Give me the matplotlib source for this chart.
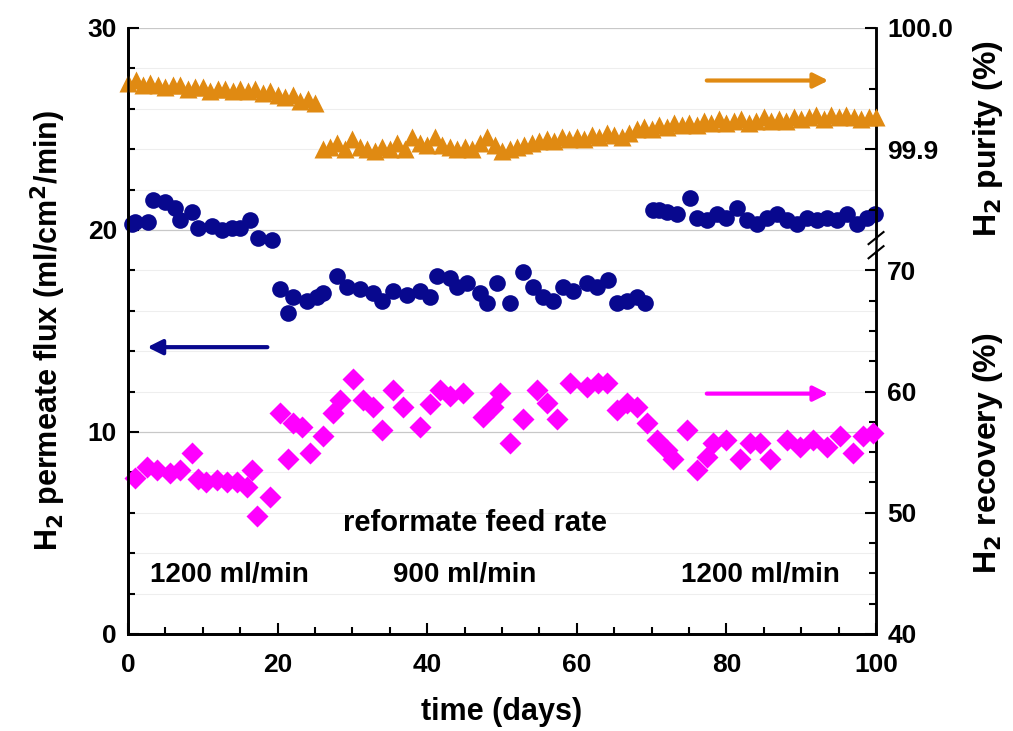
import numpy as np
import matplotlib.pyplot as plt
from matplotlib.ticker import MultipleLocator, FixedLocator
import matplotlib.transforms as mtransforms

plt.rcParams['font.family'] = ['Liberation Sans', 'DejaVu Sans']
plt.rcParams['font.weight'] = 'bold'

# H2 purity (%), orange triangles
pur_day1 = np.arange(0, 26, 1.0)
pur_val1 = [99.9550, 99.9567, 99.9533, 99.9550, 99.9533, 99.9517, 99.9533, 99.9533,
            99.9500, 99.9517, 99.9517, 99.9483, 99.9500, 99.9500, 99.9483, 99.9500,
            99.9483, 99.9500, 99.9467, 99.9483, 99.9450, 99.9433, 99.9450, 99.9400,
            99.9417, 99.9383]
pur_day2 = np.arange(26, 101, 1.0)
pur_val2 = [99.9000, 99.9017, 99.9050, 99.9000, 99.9083, 99.9017, 99.9000, 99.8983,
            99.9017, 99.9000, 99.9050, 99.9000, 99.9100, 99.9050, 99.9033, 99.9100,
            99.9033, 99.9017, 99.9000, 99.9017, 99.9000, 99.9050, 99.9100, 99.9033,
            99.8983, 99.9000, 99.9017, 99.9033, 99.9050, 99.9067, 99.9083, 99.9067,
            99.9100, 99.9083, 99.9100, 99.9083, 99.9117, 99.9100, 99.9133, 99.9117,
            99.9100, 99.9133, 99.9167, 99.9183, 99.9167, 99.9200, 99.9183, 99.9217,
            99.9200, 99.9217, 99.9200, 99.9233, 99.9217, 99.9250, 99.9217, 99.9233,
            99.9250, 99.9217, 99.9233, 99.9267, 99.9233, 99.9250, 99.9233, 99.9267,
            99.9250, 99.9267, 99.9283, 99.9250, 99.9283, 99.9267, 99.9283, 99.9267,
            99.9250, 99.9267, 99.9267]

# H2 permeate flux (ml/cm2/min), blue circles
flux_day = [0.5, 0.9, 2.7, 3.3, 4.9, 6.3, 7.0, 8.6, 9.4, 11.2, 12.6, 13.9, 15.0, 16.3, 17.4, 19.3,
            20.3, 21.4, 22.0, 23.9, 25.3, 26.1, 28.0, 29.3, 31.0, 32.8, 34.0, 35.4, 37.3, 39.0,
            40.4, 41.3, 43.0, 44.0, 45.3, 47.0, 48.0, 49.3, 51.0, 52.8, 54.2, 55.5, 56.8, 58.2,
            59.5, 61.4, 62.7, 64.2, 65.4, 66.7, 68.0, 69.1,
            70.2, 71.0, 72.0, 73.4, 75.1, 76.0, 77.4, 78.7, 80.0, 81.4, 82.7, 84.1, 85.4, 86.8,
            88.1, 89.4, 90.8, 92.1, 93.4, 94.8, 96.1, 97.5, 98.8, 99.8]
flux_val = [20.3, 20.4, 20.4, 21.5, 21.4, 21.1, 20.5, 20.9, 20.1, 20.2, 20.0, 20.1, 20.1, 20.5, 19.6, 19.5,
            17.1, 15.9, 16.7, 16.5, 16.7, 16.9, 17.7, 17.2, 17.1, 16.9, 16.5, 17.0, 16.8, 17.0,
            16.7, 17.7, 17.6, 17.2, 17.4, 16.9, 16.4, 17.4, 16.4, 17.9, 17.2, 16.7, 16.5, 17.2,
            17.0, 17.4, 17.2, 17.5, 16.4, 16.5, 16.7, 16.4,
            21.0, 21.0, 20.9, 20.8, 21.6, 20.6, 20.5, 20.8, 20.6, 21.1, 20.5, 20.3, 20.6, 20.8,
            20.5, 20.3, 20.6, 20.5, 20.6, 20.5, 20.8, 20.3, 20.6, 20.8]

# H2 recovery (%), magenta diamonds
rec_day = [0.9, 2.5, 3.9, 5.6, 7.0, 8.5, 9.4, 10.4, 11.9, 13.2, 14.6, 15.9, 16.6, 17.2, 19.0,
           20.3, 21.4, 22.1, 23.3, 24.3, 26.1, 27.4, 28.3, 30.1, 31.4, 32.8, 34.0, 35.4, 36.8,
           39.0, 40.4, 41.7, 43.0, 44.8, 47.5, 48.8, 49.7, 51.0, 52.8, 54.7, 56.0, 57.4, 59.1,
           61.4, 62.8, 64.0, 65.4, 66.7, 68.0, 69.4, 70.7, 72.1, 72.9, 74.7, 76.0, 77.4, 78.2,
           80.0, 81.8, 83.2, 84.5, 85.8, 88.1, 89.8, 91.6, 93.4, 95.2, 96.9, 98.3, 99.6]
rec_val = [52.9, 53.8, 53.5, 53.3, 53.5, 54.9, 52.8, 52.5, 52.7, 52.5, 52.5, 52.1, 53.5, 49.7, 51.3,
           58.2, 54.4, 57.4, 57.1, 54.9, 56.3, 58.2, 59.3, 61.0, 59.3, 58.7, 56.8, 60.1, 58.7,
           57.1, 59.0, 60.1, 59.6, 59.9, 57.9, 58.7, 59.9, 55.8, 57.7, 60.1, 59.1, 57.7, 60.7,
           60.4, 60.7, 60.7, 58.5, 59.1, 58.7, 57.4, 56.0, 55.2, 54.4, 56.8, 53.5, 54.6, 55.8,
           56.0, 54.4, 55.8, 55.8, 54.4, 56.0, 55.4, 56.0, 55.4, 56.3, 54.9, 56.3, 56.6]

feed_labels = ['1200 ml/min', '900 ml/min', '1200 ml/min']
feed_label_x = [13.6, 45.0, 84.5]

c_orange = '#E08A12'
c_blue = '#08088E'
c_mag = '#FF00FF'

fig = plt.figure(figsize=(10.13, 7.31), dpi=100)
ax = fig.add_axes([0.1264, 0.1327, 0.7384, 0.829])
ax_rec = ax.twinx()
ax_pur = ax.twinx()

ax.set_xlim(0, 100)
ax.set_ylim(0, 30)
ax_rec.set_ylim(40, 90)
ax_pur.set_ylim(99.5, 100.0)

ax.grid(axis='y', which='major', color='#c8c8c8', lw=0.9)
ax.grid(axis='y', which='minor', color='#eeeeee', lw=0.8)
ax.set_axisbelow(True)

ax_pur.plot(pur_day1, pur_val1, '^', color=c_orange, ms=13, mec='none', clip_on=False)
ax_pur.plot(pur_day2, pur_val2, '^', color=c_orange, ms=13, mec='none', clip_on=False)
ax.plot(flux_day, flux_val, 'o', color=c_blue, ms=12, mec='none', clip_on=False)
ax_rec.plot(rec_day, rec_val, 'D', color=c_mag, ms=11, mec='none', clip_on=False)

# arrows pointing to the axis of each series
arr = dict(arrowstyle='-|>', lw=3, mutation_scale=22)
ax.annotate('', xy=(94, 27.4), xytext=(77, 27.4), arrowprops=dict(color=c_orange, **arr))
ax.annotate('', xy=(2.2, 14.2), xytext=(19, 14.2), arrowprops=dict(color=c_blue, **arr))
ax.annotate('', xy=(94, 11.9), xytext=(77, 11.9), arrowprops=dict(color=c_mag, **arr))

ax.text(46.4, 5.5, 'reformate feed rate', ha='center', va='center', fontsize=21, weight='bold')
for lx, lab in zip(feed_label_x, feed_labels):
    ax.text(lx, 2.9, lab, ha='center', va='center', fontsize=20, weight='bold')

# ticks
ax.xaxis.set_major_locator(MultipleLocator(20))
ax.xaxis.set_minor_locator(MultipleLocator(5))
ax.yaxis.set_major_locator(MultipleLocator(10))
ax.yaxis.set_minor_locator(MultipleLocator(2))
ax.tick_params(which='both', direction='in', labelsize=19, width=1.5)
ax.tick_params(which='major', length=8, pad=8)
ax.tick_params(which='minor', length=5)
ax.tick_params(axis='x', which='major', pad=14)
ax.tick_params(axis='y', right=False)

ax_rec.yaxis.set_major_locator(FixedLocator([40, 50, 60, 70]))
ax_rec.yaxis.set_minor_locator(FixedLocator(np.arange(40, 71, 2.5)))
ax_pur.yaxis.set_major_locator(FixedLocator([99.9, 100.0]))
ax_pur.yaxis.set_minor_locator(FixedLocator([99.85, 99.95]))
ax_pur.yaxis.set_major_formatter(plt.FormatStrFormatter('%.1f'))
for a in (ax_rec, ax_pur):
    a.tick_params(which='both', direction='in', labelsize=19, width=1.5)
    a.tick_params(which='major', length=8, pad=8)
    a.tick_params(which='minor', length=5)

for a in (ax, ax_rec, ax_pur):
    a.spines['top'].set_visible(False)
    for s in ('left', 'right', 'bottom'):
        a.spines[s].set_linewidth(1.8)
ax_pur.spines['right'].set_visible(False)
ax_rec.spines['right'].set_visible(False)

# right spine with a break between recovery and purity scales
trans = mtransforms.blended_transform_factory(ax.transAxes, ax.transData)
ax.plot([1, 1], [0, 18.9], color='black', lw=1.8, transform=trans, clip_on=False, zorder=5)
ax.plot([1, 1], [19.6, 30], color='black', lw=1.8, transform=trans, clip_on=False, zorder=5)
ax.plot([0.99, 1.01], [18.6, 19.2], color='black', lw=1.5, transform=trans, clip_on=False, zorder=5)
ax.plot([0.99, 1.01], [19.3, 19.9], color='black', lw=1.5, transform=trans, clip_on=False, zorder=5)

for lab in ax.get_xticklabels() + ax.get_yticklabels() + ax_rec.get_yticklabels() + ax_pur.get_yticklabels():
    lab.set_fontweight('bold')

ax.set_xlabel('time (days)', fontsize=22, weight='bold', labelpad=14)
ax.set_ylabel('H$_\\mathbf{2}$ permeate flux (ml/cm$^\\mathbf{2}$/min)', fontsize=22, weight='bold', labelpad=14)
fig.text(0.975, 0.81, 'H$_\\mathbf{2}$ purity (%)', rotation=90, ha='center', va='center', fontsize=23, weight='bold')
fig.text(0.975, 0.38, 'H$_\\mathbf{2}$ recovery (%)', rotation=90, ha='center', va='center', fontsize=23, weight='bold')

fig.savefig('out.png', dpi=100)
